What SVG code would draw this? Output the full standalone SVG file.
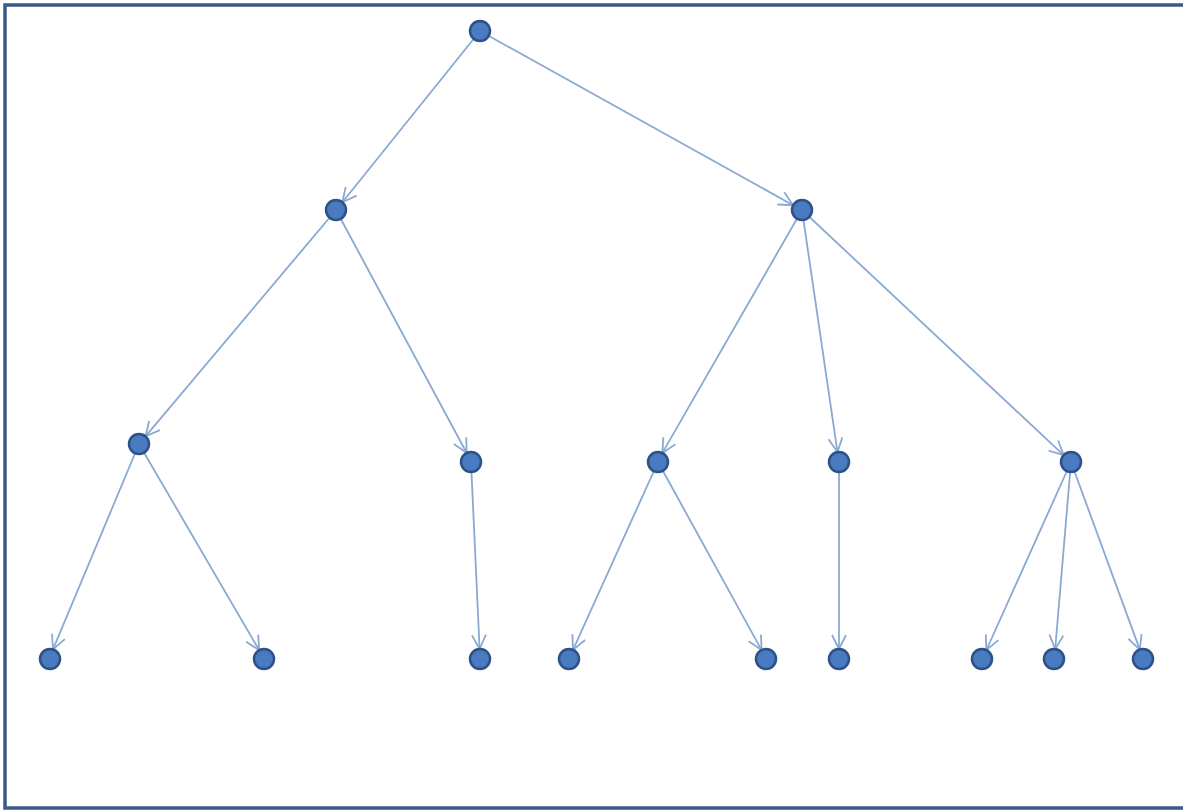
<svg xmlns="http://www.w3.org/2000/svg" width="1183" height="812" viewBox="0 0 1183 812">
<style>
.frame{fill:#fff;stroke:#3b5a88;stroke-width:3.5}
.n{fill:#4a7ac0;stroke:#2c5288;stroke-width:2.5}
.e{stroke:#8aa9d2;stroke-width:1.8;fill:none;marker-end:url(#ah)}
</style>
<defs>
<marker id="ah" viewBox="0 0 16 16" refX="15" refY="8" markerWidth="16" markerHeight="16" markerUnits="userSpaceOnUse" orient="auto">
<path d="M1,1 L15,8 L1,15" fill="none" stroke="#8aa9d2" stroke-width="1.8"/>
</marker>
</defs>
<rect class="frame" x="5" y="5" width="1190" height="803"/>
<g id="connectors">
<line class="e" x1="480" y1="31" x2="342.4" y2="202.2"/>
<line class="e" x1="480" y1="31" x2="793.1" y2="205.2"/>
<line class="e" x1="336" y1="210" x2="145.5" y2="436.3"/>
<line class="e" x1="336" y1="210" x2="466.7" y2="453"/>
<line class="e" x1="802" y1="210" x2="662.4" y2="452.9"/>
<line class="e" x1="802" y1="210" x2="837.5" y2="452.1"/>
<line class="e" x1="802" y1="210" x2="1063.6" y2="455.2"/>
<line class="e" x1="139" y1="444" x2="53" y2="649.4"/>
<line class="e" x1="139" y1="444" x2="259.2" y2="650.2"/>
<line class="e" x1="471" y1="462" x2="479.6" y2="649"/>
<line class="e" x1="658" y1="462" x2="573" y2="649.9"/>
<line class="e" x1="658" y1="462" x2="761.6" y2="650.1"/>
<line class="e" x1="839" y1="462" x2="839" y2="649"/>
<line class="e" x1="1071" y1="462" x2="986.4" y2="650"/>
<line class="e" x1="1071" y1="462" x2="1055.2" y2="649"/>
<line class="e" x1="1071" y1="462" x2="1139.8" y2="649.6"/>
</g>
<g id="n0"><circle class="n" cx="480" cy="31" r="10"/></g>
<g id="n1"><circle class="n" cx="336" cy="210" r="10"/></g>
<g id="n2"><circle class="n" cx="802" cy="210" r="10"/></g>
<g id="n3"><circle class="n" cx="139" cy="444" r="10"/></g>
<g id="n4"><circle class="n" cx="471" cy="462" r="10"/></g>
<g id="n5"><circle class="n" cx="658" cy="462" r="10"/></g>
<g id="n6"><circle class="n" cx="839" cy="462" r="10"/></g>
<g id="n7"><circle class="n" cx="1071" cy="462" r="10"/></g>
<g id="n8"><circle class="n" cx="50" cy="659" r="10"/></g>
<g id="n9"><circle class="n" cx="264" cy="659" r="10"/></g>
<g id="n10"><circle class="n" cx="480" cy="659" r="10"/></g>
<g id="n11"><circle class="n" cx="569" cy="659" r="10"/></g>
<g id="n12"><circle class="n" cx="766" cy="659" r="10"/></g>
<g id="n13"><circle class="n" cx="839" cy="659" r="10"/></g>
<g id="n14"><circle class="n" cx="982" cy="659" r="10"/></g>
<g id="n15"><circle class="n" cx="1054" cy="659" r="10"/></g>
<g id="n16"><circle class="n" cx="1143" cy="659" r="10"/></g>
</svg>
